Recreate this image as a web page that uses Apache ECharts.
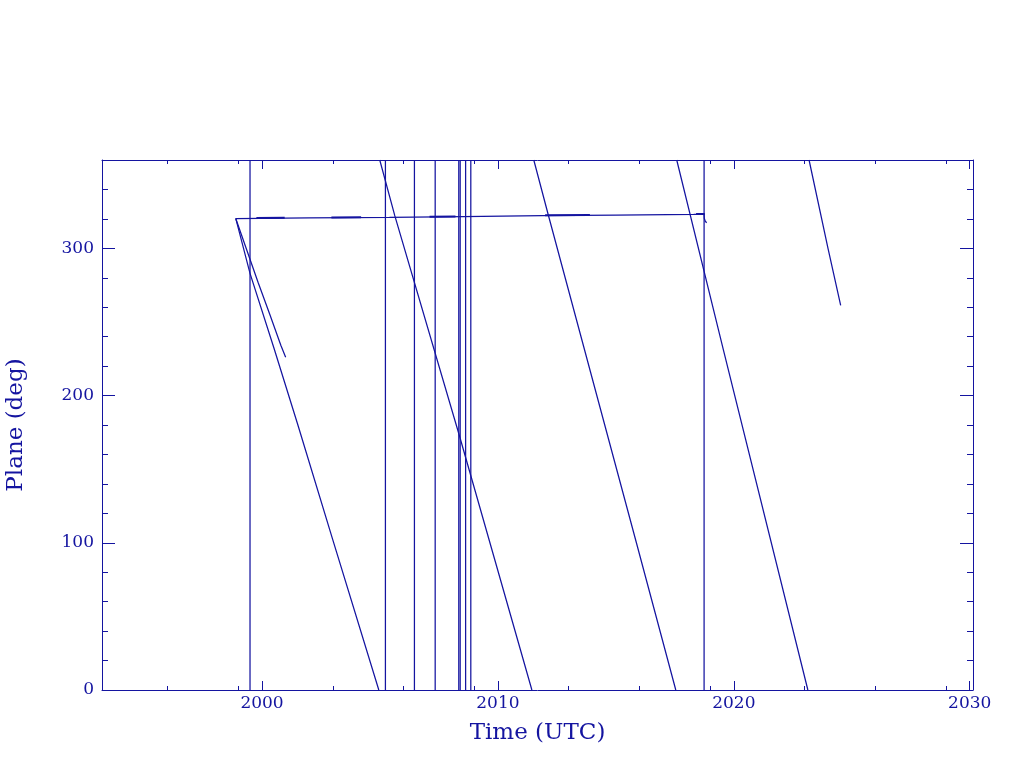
<!DOCTYPE html>
<html><head><meta charset="utf-8">
<script src="https://cdn.jsdelivr.net/npm/echarts@6/dist/echarts.min.js"></script>
<style>html,body{margin:0;padding:0;background:#fff}#c{width:1024px;height:768px}</style>
</head><body><div id="c"></div>
<script>
// ---- axis ticks ----
const xMajorTicks = [2000, 2010, 2020, 2030];
const xMinorTicks = [1996, 1999, 2003, 2006, 2009, 2013, 2016, 2019, 2023, 2026, 2029];
const yMajorTicks = [0, 100, 200, 300];
const yMinorTicks = [20, 40, 60, 80, 120, 140, 160, 180, 220, 240, 260, 280, 320, 340];
const xRange = [1993.215, 2030.14];
const yRange = [0, 360];

// ---- data (Time in decimal years, Plane in degrees) ----
const trackYears = [1998.885, 2002.0, 2005.4, 2008.5, 2011.9, 2015.0, 2018.3, 2018.74, 2018.78, 2018.75, 2018.82, 2018.79, 2018.85];
const trackDeg   = [320.2, 320.7, 321.1, 321.6, 322.2, 322.6, 323.0, 323.1, 322.0, 320.3, 319.6, 318.4, 317.4];

const denseYears = [1999.76, 2000.96, null, 2002.94, 2004.2, null, 2007.1, 2008.2, null, 2012.0, 2013.9, null, 2018.4, 2018.77];
const denseDeg   = [320.6, 320.8, null, 320.9, 321.1, null, 321.5, 321.7, null, 322.4, 322.6, null, 323.3, 323.3];

const driftAYears = [1998.885, 1999.49, 2000.51, 2001.5, 2003.0, 2004.95];
const driftADeg   = [320.3, 283.0, 232.0, 181.0, 102.0, 0];
const driftBYears = [1998.885, 1999.83, 2000.33, 2000.8, 2001.0];
const driftBDeg   = [320.3, 277.0, 255.0, 234.0, 226.0];
const driftCYears = [2004.99, 2005.63, 2008.38, 2011.44];
const driftCDeg   = [360, 322, 172, 0];
const driftDYears = [2011.52, 2012.13, 2015.87, 2017.54];
const driftDDeg   = [360, 323, 100, 0];
const driftEYears = [2017.58, 2019.55, 2023.14];
const driftEDeg   = [360, 231.5, 0];
const driftFYears = [2023.19, 2024.0, 2024.53];
const driftFDeg   = [360, 299.5, 261.2];

const jumpYears = [1999.49, 2005.23, 2006.46, 2007.34, 2008.34, 2008.40, 2008.63, 2008.85, 2018.74];
const jumpDeg = [0, 360];

// ---- chart ----
const C = '#1414a0';
const FONT = 'DejaVu Serif';
const LW = 1.25;
const zip = (xs, ys) => xs.map((x, i) => (x === null ? [null, null] : [x, ys[i]]));

function axisX(pos, ticks, len, major, extra) {
  return Object.assign({
    type: 'value', position: pos, min: xRange[0], max: xRange[1],
    axisLine: { show: major, onZero: false, lineStyle: { color: C, width: 1 } },
    axisTick: { show: true, inside: true, length: len, customValues: ticks, lineStyle: { color: C, width: 1 } },
    axisLabel: { show: false },
    splitLine: { show: false }
  }, extra || {});
}
function axisY(pos, ticks, len, major, extra) {
  return Object.assign({
    type: 'value', position: pos, min: yRange[0], max: yRange[1],
    axisLine: { show: major, onZero: false, lineStyle: { color: C, width: 1 } },
    axisTick: { show: true, inside: true, length: len, customValues: ticks, lineStyle: { color: C, width: 1 } },
    axisLabel: { show: false },
    splitLine: { show: false }
  }, extra || {});
}

const lineSeries = (data, width) => ({
  type: 'line', xAxisIndex: 0, yAxisIndex: 0, data: data, symbol: 'none',
  showSymbol: false, connectNulls: false, silent: true, animation: false,
  lineStyle: { color: C, width: width || LW }
});

const series = [
  lineSeries(zip(trackYears, trackDeg), LW),
  lineSeries(zip(denseYears, denseDeg), 2),
  lineSeries(zip(driftAYears, driftADeg), LW),
  lineSeries(zip(driftBYears, driftBDeg), LW),
  lineSeries(zip(driftCYears, driftCDeg), LW),
  lineSeries(zip(driftDYears, driftDDeg), LW),
  lineSeries(zip(driftEYears, driftEDeg), LW),
  lineSeries(zip(driftFYears, driftFDeg), LW)
].concat(jumpYears.map(y => lineSeries(jumpDeg.map(d => [y, d]), LW)));

const chart = echarts.init(document.getElementById('c'), null, { renderer: 'canvas' });
chart.setOption({
  animation: false,
  backgroundColor: '#ffffff',
  grid: { left: 102, right: 51, top: 160, bottom: 78, containLabel: false, outerBoundsMode: 'none' },
  xAxis: [
    axisX('bottom', xMajorTicks, 9, true, {
      axisLabel: { show: true, customValues: xMajorTicks, formatter: v => String(v), color: C, fontFamily: FONT, fontSize: 17, margin: 5 },
      name: 'Time (UTC)', nameLocation: 'middle', nameGap: 32, nameMoveOverlap: false,
      nameTextStyle: { color: C, fontFamily: FONT, fontSize: 23 }
    }),
    axisX('bottom', xMinorTicks, 4, false),
    axisX('top', xMajorTicks, 9, true),
    axisX('top', xMinorTicks, 4, false)
  ],
  yAxis: [
    axisY('left', yMajorTicks, 13, true, {
      axisLabel: { show: true, customValues: yMajorTicks, formatter: v => String(v), color: C, fontFamily: FONT, fontSize: 17, margin: 8 },
      name: 'Plane (deg)', nameLocation: 'middle', nameGap: 74, nameMoveOverlap: false,
      nameTextStyle: { color: C, fontFamily: FONT, fontSize: 23 }
    }),
    axisY('left', yMinorTicks, 6, false),
    axisY('right', yMajorTicks, 13, true),
    axisY('right', yMinorTicks, 6, false)
  ],
  series: series
});
</script>
</body></html>
